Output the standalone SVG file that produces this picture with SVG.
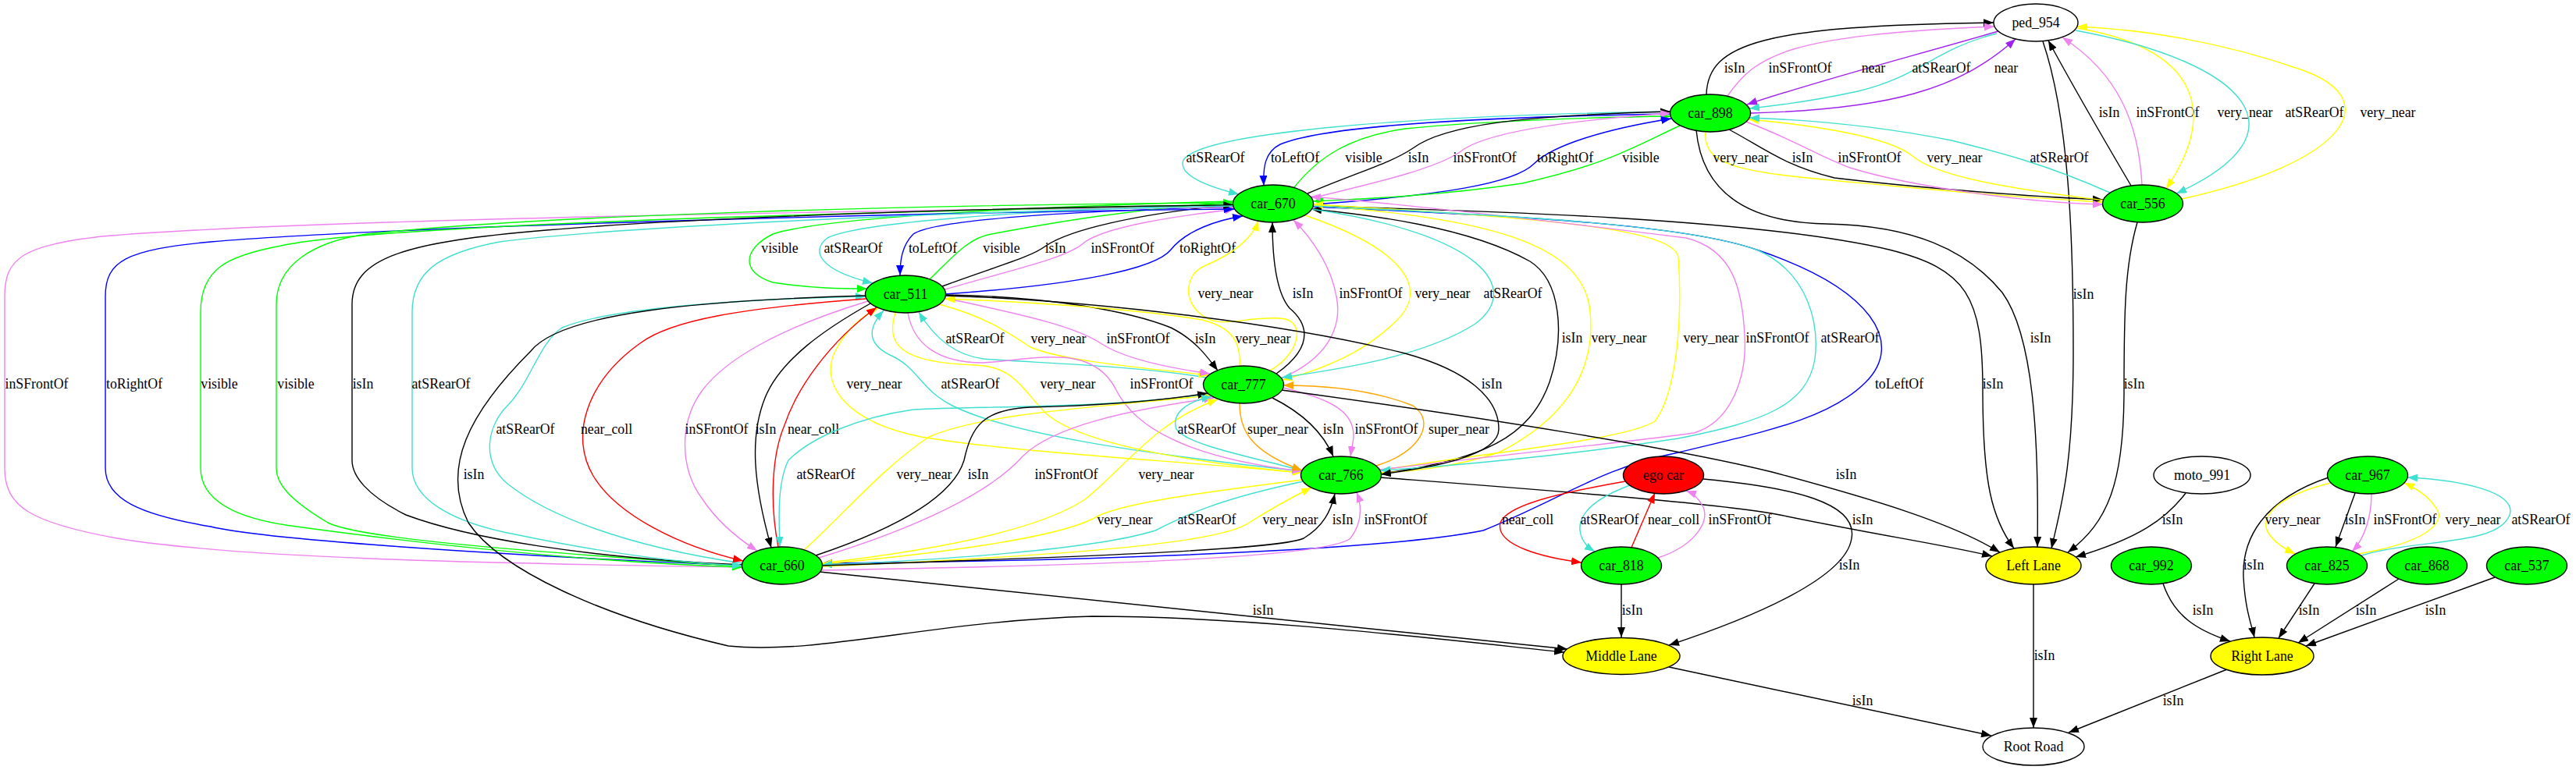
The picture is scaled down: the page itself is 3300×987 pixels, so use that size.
<svg xmlns="http://www.w3.org/2000/svg" width="3300" height="987" viewBox="0 0 3300 987">
<style>
text{font-family:"Liberation Serif","Times New Roman",serif;font-size:17.8px;text-anchor:middle;fill:#000}
.n ellipse{stroke:#000;stroke-width:1.4}
.gr{fill:#00ff00}.rd{fill:#ff0000}.yl{fill:#ffff00}.wh{fill:#fff}
#edges path{fill:none;stroke-width:1.4}
.k{stroke:#000;marker-end:url(#mk)}
.v{stroke:#ee82ee;marker-end:url(#mv)}
.p{stroke:#a020f0;marker-end:url(#mp)}
.t{stroke:#40e0d0;marker-end:url(#mt)}
.y{stroke:#ffff00;marker-end:url(#my)}
.g{stroke:#00ff00;marker-end:url(#mg)}
.b{stroke:#0000ff;marker-end:url(#mb)}
.r{stroke:#ff0000;marker-end:url(#mr)}
.o{stroke:#ffa500;marker-end:url(#mo)}
</style>
<defs>
<marker id="mk" viewBox="0 0 13 10" refX="13" refY="5" markerWidth="13" markerHeight="10" markerUnits="userSpaceOnUse" orient="auto"><path d="M0,0L13,5L0,10z" fill="#000"/></marker>
<marker id="mv" viewBox="0 0 13 10" refX="13" refY="5" markerWidth="13" markerHeight="10" markerUnits="userSpaceOnUse" orient="auto"><path d="M0,0L13,5L0,10z" fill="#ee82ee"/></marker>
<marker id="mp" viewBox="0 0 13 10" refX="13" refY="5" markerWidth="13" markerHeight="10" markerUnits="userSpaceOnUse" orient="auto"><path d="M0,0L13,5L0,10z" fill="#a020f0"/></marker>
<marker id="mt" viewBox="0 0 13 10" refX="13" refY="5" markerWidth="13" markerHeight="10" markerUnits="userSpaceOnUse" orient="auto"><path d="M0,0L13,5L0,10z" fill="#40e0d0"/></marker>
<marker id="my" viewBox="0 0 13 10" refX="13" refY="5" markerWidth="13" markerHeight="10" markerUnits="userSpaceOnUse" orient="auto"><path d="M0,0L13,5L0,10z" fill="#ffff00"/></marker>
<marker id="mg" viewBox="0 0 13 10" refX="13" refY="5" markerWidth="13" markerHeight="10" markerUnits="userSpaceOnUse" orient="auto"><path d="M0,0L13,5L0,10z" fill="#00ff00"/></marker>
<marker id="mb" viewBox="0 0 13 10" refX="13" refY="5" markerWidth="13" markerHeight="10" markerUnits="userSpaceOnUse" orient="auto"><path d="M0,0L13,5L0,10z" fill="#0000ff"/></marker>
<marker id="mr" viewBox="0 0 13 10" refX="13" refY="5" markerWidth="13" markerHeight="10" markerUnits="userSpaceOnUse" orient="auto"><path d="M0,0L13,5L0,10z" fill="#ff0000"/></marker>
<marker id="mo" viewBox="0 0 13 10" refX="13" refY="5" markerWidth="13" markerHeight="10" markerUnits="userSpaceOnUse" orient="auto"><path d="M0,0L13,5L0,10z" fill="#ffa500"/></marker>
</defs>
<rect width="3300" height="987" fill="#fff"/>
<g id="edges">
<g><path class="k" d="M2186,121 C2188,55 2260,33 2554,29"/><text x="2222" y="93">isIn</text></g>
<g><path class="v" d="M2213,123 C2250,70 2290,45 2555,34"/><text x="2306" y="93">inSFrontOf</text></g>
<g><path class="p" d="M2560,40 C2450,72 2330,103 2238,134"/><text x="2400" y="93">near</text></g>
<g><path class="t" d="M2558,43 C2480,62 2460,98 2380,117 C2320,130 2280,135 2241,139"/><text x="2487" y="93">atSRearOf</text></g>
<g><path class="p" d="M2243,145 C2420,140 2510,115 2582,50"/><text x="2570" y="93">near</text></g>
<g><path class="k" d="M2730,238 C2690,170 2650,100 2624,52"/><text x="2702" y="150">isIn</text></g>
<g><path class="v" d="M2744,237 C2740,160 2715,95 2642,48"/><text x="2777" y="150">inSFrontOf</text></g>
<g><path class="y" d="M2661,36 C2800,60 2850,130 2775,242"/><text x="2876" y="150">very_near</text></g>
<g><path class="t" d="M2659,39 C2880,80 2960,170 2788,248"/><text x="2965" y="150">atSRearOf</text></g>
<g><path class="y" d="M2795,255 C3000,210 3060,130 2950,90 C2850,55 2750,38 2661,34"/><text x="3059" y="150">very_near</text></g>
<g><path class="k" d="M2617,53 C2650,150 2656,300 2656,450 C2656,600 2640,650 2628,703"/><text x="2669" y="383">isIn</text></g>
<g><path class="y" d="M2185,169 C2180,220 2250,222 2420,238 C2550,250 2640,256 2694,259"/><text x="2230" y="208">very_near</text></g>
<g><path class="k" d="M2215,166 C2260,190 2285,212 2350,228 C2450,240 2600,252 2694,256"/><text x="2309" y="208">isIn</text></g>
<g><path class="v" d="M2237,156 C2300,180 2330,200 2370,215 C2450,240 2600,260 2694,262"/><text x="2395" y="208">inSFrontOf</text></g>
<g><path class="y" d="M2697,257 C2560,240 2480,225 2450,200 C2420,175 2320,160 2240,153"/><text x="2504" y="208">very_near</text></g>
<g><path class="t" d="M2703,247 C2620,210 2560,195 2500,180 C2400,160 2300,153 2241,151"/><text x="2638" y="208">atSRearOf</text></g>
<g><path class="k" d="M2173,167 C2180,240 2230,285 2340,287 C2450,289 2520,320 2565,375 C2605,430 2612,560 2610,701"/><text x="2614" y="439">isIn</text></g>
<g><path class="k" d="M2738,285 C2722,340 2721,400 2721,500 C2721,620 2700,670 2649,708"/><text x="2734" y="498">isIn</text></g>
<g><path class="k" d="M1682,264 C1900,270 2250,280 2420,320 C2520,345 2540,380 2540,500 C2540,620 2552,665 2580,703"/><text x="2553" y="498">isIn</text></g>
<g><path class="t" d="M2140,143 C1800,148 1540,170 1516,205 C1508,225 1550,240 1587,249"/><text x="1557" y="208">atSRearOf</text></g>
<g><path class="b" d="M2140,146 C1900,150 1700,160 1640,185 C1620,195 1618,215 1619,238"/><text x="1659" y="208">toLeftOf</text></g>
<g><path class="g" d="M1658,240 C1690,200 1730,175 1800,165 C1900,155 2050,150 2140,149"/><text x="1747" y="208">visible</text></g>
<g><path class="k" d="M1675,248 C1740,220 1780,210 1810,190 C1850,160 1950,148 2140,143"/><text x="1817" y="208">isIn</text></g>
<g><path class="v" d="M1680,254 C1780,230 1840,215 1870,195 C1900,170 2000,155 2140,145"/><text x="1902" y="208">inSFrontOf</text></g>
<g><path class="b" d="M1682,262 C1850,250 1940,235 1965,210 C1990,185 2060,165 2141,152"/><text x="2005" y="208">toRightOf</text></g>
<g><path class="g" d="M2152,161 C2090,190 2060,210 1950,235 C1850,250 1750,255 1682,258"/><text x="2102" y="208">visible</text></g>
<g><path class="g" d="M1580,258 C1300,265 1050,280 990,300 C950,320 950,350 990,362 C1040,370 1080,370 1111,370"/><text x="999" y="324">visible</text></g>
<g><path class="t" d="M1580,262 C1300,270 1100,285 1060,305 C1040,320 1045,345 1118,363"/><text x="1093" y="324">atSRearOf</text></g>
<g><path class="b" d="M1580,265 C1400,270 1200,280 1170,300 C1155,315 1153,335 1153,353"/><text x="1195" y="324">toLeftOf</text></g>
<g><path class="g" d="M1191,358 C1220,330 1240,305 1270,300 C1350,285 1450,268 1580,259"/><text x="1283" y="324">visible</text></g>
<g><path class="k" d="M1207,367 C1280,340 1320,330 1340,315 C1370,295 1450,275 1580,262"/><text x="1352" y="324">isIn</text></g>
<g><path class="v" d="M1210,371 C1300,345 1370,330 1390,310 C1420,290 1500,278 1582,268"/><text x="1438" y="324">inSFrontOf</text></g>
<g><path class="b" d="M1211,377 C1380,365 1480,345 1500,320 C1520,295 1560,282 1592,277"/><text x="1547" y="324">toRightOf</text></g>
<g><path class="v" d="M951,727 C600,722 300,715 150,690 C40,670 6,650 6,600 L6,380 C6,330 30,315 130,303 C400,280 1200,268 1580,266"/><text x="47" y="498">inSFrontOf</text></g>
<g><path class="b" d="M951,725 C600,710 330,690 270,675 C180,660 135,640 135,600 L135,380 C135,335 160,320 270,310 C500,290 1200,272 1581,268"/><text x="172" y="498">toRightOf</text></g>
<g><path class="g" d="M1580,262 C1200,270 500,285 360,315 C290,328 257,345 257,400 L257,600 C257,640 300,665 380,675 C600,705 800,722 951,727"/><text x="281" y="498">visible</text></g>
<g><path class="g" d="M951,726 C650,705 460,690 420,670 C370,640 354,620 354,600 L354,390 C354,340 400,310 470,300 C700,275 1200,262 1580,260"/><text x="379" y="498">visible</text></g>
<g><path class="k" d="M951,724 C750,715 600,690 520,660 C470,635 451,610 451,590 L451,390 C451,330 520,310 700,295 C900,278 1300,265 1580,263"/><text x="465" y="498">isIn</text></g>
<g><path class="t" d="M1580,264 C1200,272 800,290 640,310 C560,325 528,350 528,400 L528,600 C528,640 580,670 660,685 C780,710 880,722 951,725"/><text x="565" y="498">atSRearOf</text></g>
<g><path class="b" d="M1682,265 C1900,275 2150,285 2250,320 C2400,370 2440,440 2390,490 C2340,540 2250,555 2150,580 C2050,600 2000,640 1900,680 C1750,710 1300,720 1053,722"/><text x="2433" y="498">toLeftOf</text></g>
<g><path class="k" d="M1769,607 C1900,590 1960,560 1985,490 C2005,430 2000,360 1960,335 C1880,290 1750,275 1680,268"/><text x="2014" y="439">isIn</text></g>
<g><path class="y" d="M1682,263 C1900,280 2030,310 2037,400 C2045,480 2000,540 1920,580 C1860,600 1800,605 1769,606"/><text x="2074" y="439">very_near</text></g>
<g><path class="y" d="M1768,603 C1900,580 2080,565 2120,540 C2150,500 2155,400 2150,330 C2145,295 2000,280 1682,262"/><text x="2192" y="439">very_near</text></g>
<g><path class="v" d="M1768,602 C1950,580 2100,565 2170,555 C2220,540 2238,480 2235,430 C2232,370 2220,320 2160,305 C2000,285 1800,262 1679,252"/><text x="2277" y="439">inSFrontOf</text></g>
<g><path class="t" d="M1682,264 C1900,275 2150,285 2250,320 C2320,350 2330,420 2325,460 C2315,520 2260,540 2150,562 C2000,585 1850,598 1768,603"/><text x="2370" y="439">atSRearOf</text></g>
<g><path class="y" d="M1625,476 C1665,455 1675,410 1640,408 C1590,405 1560,425 1535,400 C1515,380 1520,350 1545,340 C1580,325 1605,305 1612,283"/><text x="1570" y="382">very_near</text></g>
<g><path class="k" d="M1635,479 C1690,440 1670,410 1652,395 C1635,375 1630,330 1630,285"/><text x="1669" y="382">isIn</text></g>
<g><path class="v" d="M1641,485 C1700,460 1720,420 1712,380 C1705,340 1680,305 1657,282"/><text x="1756" y="382">inSFrontOf</text></g>
<g><path class="y" d="M1672,276 C1800,320 1830,370 1790,410 C1750,450 1700,472 1643,487"/><text x="1848" y="382">very_near</text></g>
<g><path class="t" d="M1680,268 C1900,300 1950,370 1890,415 C1820,460 1700,475 1642,484"/><text x="1938" y="382">atSRearOf</text></g>
<g><path class="t" d="M1545,484 C1450,468 1320,465 1260,460 C1220,455 1195,430 1177,400"/><text x="1249" y="440">atSRearOf</text></g>
<g><path class="y" d="M1203,390 C1260,405 1290,425 1320,445 C1360,462 1450,470 1548,481"/><text x="1356" y="440">very_near</text></g>
<g><path class="v" d="M1210,382 C1320,405 1380,420 1410,440 C1440,460 1500,472 1550,479"/><text x="1458" y="440">inSFrontOf</text></g>
<g><path class="k" d="M1211,378 C1350,380 1450,400 1500,420 C1530,435 1545,455 1560,475"/><text x="1544" y="440">isIn</text></g>
<g><path class="y" d="M1588,470 C1590,440 1580,420 1540,410 C1450,395 1300,386 1210,383"/><text x="1618" y="440">very_near</text></g>
<g><path class="y" d="M1667,606 C1500,590 1300,580 1180,560 C1080,540 1050,490 1070,450 C1085,420 1105,405 1125,395"/><text x="1120" y="498">very_near</text></g>
<g><path class="t" d="M1667,604 C1450,580 1290,555 1220,520 C1180,500 1175,470 1140,455 C1110,440 1112,420 1132,398"/><text x="1243" y="498">atSRearOf</text></g>
<g><path class="y" d="M1147,401 C1135,440 1150,465 1250,468 C1300,470 1310,500 1340,530 C1380,565 1500,590 1668,606"/><text x="1368" y="498">very_near</text></g>
<g><path class="v" d="M1163,401 C1170,440 1200,465 1260,465 C1330,460 1400,440 1430,500 C1460,560 1550,590 1668,604"/><text x="1488" y="498">inSFrontOf</text></g>
<g><path class="k" d="M1211,379 C1400,385 1650,415 1800,453 C1880,475 1920,510 1920,550 C1920,585 1830,600 1769,608"/><text x="1911" y="498">isIn</text></g>
<g><path class="t" d="M951,722 C800,700 700,660 650,620 C615,590 625,545 650,520 C680,490 690,440 720,420 C780,395 950,383 1109,380"/><text x="673" y="556">atSRearOf</text></g>
<g><path class="r" d="M1109,383 C950,395 860,410 820,440 C750,490 730,560 760,610 C790,660 870,700 952,719"/><text x="777" y="556">near_coll</text></g>
<g><path class="v" d="M1112,386 C1000,420 930,460 900,500 C870,540 870,600 900,640 C920,670 945,690 970,706"/><text x="918" y="556">inSFrontOf</text></g>
<g><path class="k" d="M1115,389 C1060,420 1000,460 980,510 C960,560 965,620 988,702"/><text x="981" y="556">isIn</text></g>
<g><path class="r" d="M997,701 C985,640 990,580 1005,545 C1020,500 1060,440 1123,394"/><text x="1042" y="556">near_coll</text></g>
<g><path class="t" d="M1548,505 C1400,525 1250,520 1170,525 C1100,535 1040,560 1010,590 C995,620 998,670 999,701"/><text x="1058" y="614">atSRearOf</text></g>
<g><path class="y" d="M1030,705 C1080,660 1130,600 1190,560 C1260,530 1400,522 1551,507"/><text x="1184" y="614">very_near</text></g>
<g><path class="k" d="M1045,712 C1140,680 1220,640 1235,590 C1245,545 1260,525 1320,522 C1400,520 1480,515 1547,504"/><text x="1253" y="614">isIn</text></g>
<g><path class="v" d="M1049,715 C1180,675 1270,630 1310,585 C1350,545 1450,525 1555,510"/><text x="1366" y="614">inSFrontOf</text></g>
<g><path class="y" d="M1052,722 C1200,705 1330,680 1390,640 C1440,600 1480,540 1560,512"/><text x="1494" y="614">very_near</text></g>
<g><path class="y" d="M1668,615 C1550,630 1430,645 1400,665 C1350,690 1200,710 1053,723"/><text x="1441" y="672">very_near</text></g>
<g><path class="t" d="M1670,617 C1560,640 1520,660 1480,680 C1400,705 1200,718 1053,724"/><text x="1546" y="672">atSRearOf</text></g>
<g><path class="y" d="M1053,726 C1300,715 1560,700 1600,670 C1640,645 1660,635 1680,625"/><text x="1653" y="672">very_near</text></g>
<g><path class="k" d="M1053,725 C1350,715 1640,705 1670,690 C1695,675 1705,655 1710,633"/><text x="1720" y="672">isIn</text></g>
<g><path class="v" d="M1052,731 C1400,725 1700,715 1730,690 C1745,670 1745,650 1738,631"/><text x="1788" y="672">inSFrontOf</text></g>
<g><path class="t" d="M1667,603 C1600,585 1520,570 1507,550 C1500,530 1520,515 1552,508"/><text x="1546" y="556">atSRearOf</text></g>
<g><path class="o" d="M1588,517 C1588,550 1600,578 1668,603"/><text x="1637" y="556">super_near</text></g>
<g><path class="k" d="M1630,510 C1670,530 1695,555 1708,585"/><text x="1708" y="556">isIn</text></g>
<g><path class="v" d="M1643,497 C1710,512 1735,530 1734,560 C1733,570 1731,578 1730,585"/><text x="1776" y="556">inSFrontOf</text></g>
<g><path class="o" d="M1763,597 C1820,580 1840,540 1810,520 C1760,500 1700,494 1644,494"/><text x="1869" y="556">super_near</text></g>
<g><path class="k" d="M1642,500 C1900,535 2150,575 2270,605 C2400,640 2500,670 2562,708"/><text x="2365" y="614">isIn</text></g>
<g><path class="k" d="M1769,612 C2000,630 2200,645 2280,660 C2400,685 2500,700 2552,713"/><text x="2386" y="672">isIn</text></g>
<g><path class="r" d="M2082,617 C1980,635 1930,650 1922,670 C1915,700 1980,715 2026,721"/><text x="1957" y="672">near_coll</text></g>
<g><path class="t" d="M2088,622 C2040,640 2022,660 2024,680 C2026,695 2035,702 2043,707"/><text x="2062" y="672">atSRearOf</text></g>
<g><path class="r" d="M2089,704 L2120,632"/><text x="2144" y="672">near_coll</text></g>
<g><path class="v" d="M2124,715 C2170,700 2190,670 2182,650 C2176,638 2168,632 2160,629"/><text x="2229" y="672">inSFrontOf</text></g>
<g><path class="k" d="M2077,749 L2077,817"/><text x="2091" y="788">isIn</text></g>
<g><path class="k" d="M2182,614 C2300,625 2380,645 2372,690 C2365,740 2250,790 2138,827"/><text x="2369" y="730">isIn</text></g>
<g><path class="k" d="M1050,733 L2008,832"/><text x="1618" y="788">isIn</text></g>
<g><path class="k" d="M1109,379 C900,385 720,400 680,450 C600,530 565,600 600,670 C640,730 770,790 933,828 C1050,840 1200,795 1400,790 C1600,790 1850,820 2004,836"/><text x="607" y="614">isIn</text></g>
<g><path class="k" d="M2138,855 L2551,943"/><text x="2386" y="904">isIn</text></g>
<g><path class="k" d="M2605,749 L2605,933"/><text x="2619" y="846">isIn</text></g>
<g><path class="k" d="M2853,858 L2650,939"/><text x="2784" y="904">isIn</text></g>
<g><path class="k" d="M2800,632 C2775,665 2740,690 2659,714"/><text x="2783" y="672">isIn</text></g>
<g><path class="k" d="M2771,748 C2785,790 2815,808 2857,822"/><text x="2822" y="788">isIn</text></g>
<g><path class="k" d="M2965,748 L2919,818"/><text x="2958" y="788">isIn</text></g>
<g><path class="k" d="M3073,742 L2944,824"/><text x="3031" y="788">isIn</text></g>
<g><path class="k" d="M3196,740 L2954,828"/><text x="3120" y="788">isIn</text></g>
<g><path class="k" d="M2983,612 C2900,640 2872,690 2874,740 C2876,780 2884,800 2888,817"/><text x="2887" y="730">isIn</text></g>
<g><path class="y" d="M2986,619 C2920,635 2895,660 2905,682 C2915,697 2928,704 2940,710"/><text x="2937" y="672">very_near</text></g>
<g><path class="k" d="M3017,632 L2992,701"/><text x="3017" y="672">isIn</text></g>
<g><path class="v" d="M3038,633 C3038,660 3030,690 3013,707"/><text x="3081" y="672">inSFrontOf</text></g>
<g><path class="y" d="M3021,710 C3110,695 3130,670 3123,655 C3115,640 3100,628 3080,619"/><text x="3168" y="672">very_near</text></g>
<g><path class="t" d="M3025,712 C3100,690 3200,700 3215,660 C3225,630 3150,615 3084,612"/><text x="3255" y="672">atSRearOf</text></g>
</g>
<g id="ped_954" class="n"><ellipse class="wh" cx="2608" cy="29" rx="54" ry="24"/><text x="2608" y="35">ped_954</text></g>
<g id="car_898" class="n"><ellipse class="gr" cx="2191" cy="145" rx="51.5" ry="24"/><text x="2191" y="151">car_898</text></g>
<g id="car_670" class="n"><ellipse class="gr" cx="1631" cy="261" rx="51.5" ry="24"/><text x="1631" y="267">car_670</text></g>
<g id="car_556" class="n"><ellipse class="gr" cx="2745" cy="261" rx="51.5" ry="24"/><text x="2745" y="267">car_556</text></g>
<g id="car_511" class="n"><ellipse class="gr" cx="1160" cy="377" rx="51.5" ry="24"/><text x="1160" y="383">car_511</text></g>
<g id="car_777" class="n"><ellipse class="gr" cx="1593" cy="493" rx="51.5" ry="24"/><text x="1593" y="499">car_777</text></g>
<g id="car_766" class="n"><ellipse class="gr" cx="1718" cy="609" rx="51.5" ry="24"/><text x="1718" y="615">car_766</text></g>
<g id="ego_car" class="n"><ellipse class="rd" cx="2131" cy="609" rx="51.5" ry="24"/><text x="2131" y="615">ego car</text></g>
<g id="moto_991" class="n"><ellipse class="wh" cx="2821" cy="609" rx="62" ry="24"/><text x="2821" y="615">moto_991</text></g>
<g id="car_967" class="n"><ellipse class="gr" cx="3033" cy="609" rx="51.5" ry="24"/><text x="3033" y="615">car_967</text></g>
<g id="car_660" class="n"><ellipse class="gr" cx="1002" cy="725" rx="51.5" ry="24"/><text x="1002" y="731">car_660</text></g>
<g id="car_818" class="n"><ellipse class="gr" cx="2077" cy="725" rx="51.5" ry="24"/><text x="2077" y="731">car_818</text></g>
<g id="left_lane" class="n"><ellipse class="yl" cx="2605" cy="725" rx="61" ry="24"/><text x="2605" y="731">Left Lane</text></g>
<g id="car_992" class="n"><ellipse class="gr" cx="2756" cy="725" rx="51.5" ry="24"/><text x="2756" y="731">car_992</text></g>
<g id="car_825" class="n"><ellipse class="gr" cx="2981" cy="725" rx="51.5" ry="24"/><text x="2981" y="731">car_825</text></g>
<g id="car_868" class="n"><ellipse class="gr" cx="3109" cy="725" rx="51.5" ry="24"/><text x="3109" y="731">car_868</text></g>
<g id="car_537" class="n"><ellipse class="gr" cx="3237" cy="725" rx="51.5" ry="24"/><text x="3237" y="731">car_537</text></g>
<g id="middle_lane" class="n"><ellipse class="yl" cx="2077" cy="841" rx="75" ry="23.5"/><text x="2077" y="847">Middle Lane</text></g>
<g id="right_lane" class="n"><ellipse class="yl" cx="2898" cy="841" rx="66" ry="24"/><text x="2898" y="847">Right Lane</text></g>
<g id="root_road" class="n"><ellipse class="wh" cx="2605" cy="957" rx="65" ry="24"/><text x="2605" y="963">Root Road</text></g>
</svg>
